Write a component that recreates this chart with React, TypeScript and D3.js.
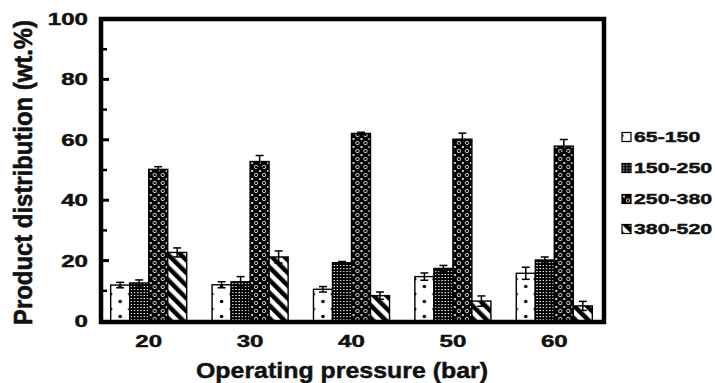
import React from "react";
import * as d3 from "d3";

// Operating pressure groups (bar) and product cuts
const pressures = ["20", "30", "40", "50", "60"];
const fractions = ["65-150", "150-250", "250-380", "380-520"];

// Mean product distribution (wt.%) and error per cut
const cut65_150 = [11.9, 12.0, 10.5, 14.7, 15.8];
const err65_150 = [0.9, 1.0, 0.9, 1.2, 2.0];
const cut150_250 = [12.6, 13.0, 19.3, 17.4, 20.2];
const err150_250 = [1.0, 1.7, 0.4, 1.0, 1.0];
const cut250_380 = [50.2, 52.8, 62.1, 60.2, 57.9];
const err250_380 = [0.9, 2.0, 0.4, 2.0, 2.2];
const cut380_520 = [22.7, 21.2, 8.4, 6.6, 5.0];
const err380_520 = [1.5, 2.0, 1.2, 1.7, 1.5];

const yTickValues = [0, 20, 40, 60, 80, 100];
const yMinorValues = [10, 30, 50, 70, 90];

const seriesValues = [cut65_150, cut150_250, cut250_380, cut380_520];
const seriesErrors = [err65_150, err150_250, err250_380, err380_520];
const patternIds = ["pDots", "pGrid", "pCircles", "pStripes"];

const W = 715;
const H = 383;
const FONT = "'Liberation Sans', Arial, Helvetica, sans-serif";
const INK = "#111";

export default function App() {
  const frame = { left: 101, right: 604, top: 19, bottom: 322 };
  const y = d3.scaleLinear().domain([0, 100]).range([321, 19]);
  const x0 = d3
    .scaleBand<string>()
    .domain(pressures)
    .range([98, 605])
    .paddingInner(0.25)
    .paddingOuter(0.125);
  const x1 = d3
    .scaleBand<string>()
    .domain(fractions)
    .range([0, x0.bandwidth()]);
  const bw = x1.bandwidth();

  const bars: React.ReactNode[] = [];
  const errs: React.ReactNode[] = [];
  pressures.forEach((p, gi) => {
    fractions.forEach((f, si) => {
      const v = seriesValues[si][gi];
      const e = seriesErrors[si][gi];
      const bx = (x0(p) ?? 0) + (x1(f) ?? 0);
      const h = y(0) - y(v);
      bars.push(
        <g key={`b-${p}-${f}`} transform={`translate(${bx},${y(0)})`}>
          <rect
            x={0}
            y={-h}
            width={bw}
            height={h}
            fill={`url(#${patternIds[si]})`}
            stroke="#000"
            strokeWidth={1.4}
          />
        </g>
      );
      const cx = bx + bw / 2;
      const cap = 4;
      errs.push(
        <g key={`e-${p}-${f}`} stroke="#000" strokeWidth={1.5}>
          <line x1={cx} x2={cx} y1={y(v + e)} y2={y(v - e)} />
          <line x1={cx - cap} x2={cx + cap} y1={y(v + e)} y2={y(v + e)} />
          <line x1={cx - cap} x2={cx + cap} y1={y(v - e)} y2={y(v - e)} />
        </g>
      );
    });
  });

  const legendRows = [137, 168, 199, 229];
  const textProps = {
    fontFamily: FONT,
    fontWeight: "bold" as const,
    fill: INK,
    stroke: INK,
    strokeWidth: 0.45,
  };

  return (
    <svg
      width={W}
      height={H}
      viewBox={`0 0 ${W} ${H}`}
      style={{ position: "absolute", left: 0, top: 0, background: "#fff" }}
    >
      <defs>
        {/* sparse dots on white */}
        <pattern id="pDots" patternUnits="userSpaceOnUse" x={0} y={0} width={19} height={15}>
          <rect width={19} height={15} fill="#fff" />
          <circle cx={9.5} cy={10.5} r={1.8} fill="#000" />
          <circle cx={0} cy={3} r={1.6} fill="#000" />
          <circle cx={19} cy={3} r={1.6} fill="#000" />
        </pattern>
        {/* dense dark grid */}
        <pattern id="pGrid" patternUnits="userSpaceOnUse" x={0} y={0} width={3.2} height={3}>
          <rect width={3.2} height={3} fill="#000" />
          <rect x={1.1} y={1} width={1.3} height={1.1} fill="#fff" />
        </pattern>
        {/* white circles on black */}
        <pattern id="pCircles" patternUnits="userSpaceOnUse" x={0} y={0} width={8} height={8}>
          <rect width={8} height={8} fill="#000" />
          <circle cx={2} cy={2} r={1.1} fill="#fff" />
          <circle cx={6} cy={6} r={1.7} fill="none" stroke="#fff" strokeWidth={0.8} />
        </pattern>
        {/* diagonal stripes */}
        <pattern
          id="pStripes"
          patternUnits="userSpaceOnUse"
          x={0}
          y={0}
          width={9}
          height={9}
          patternTransform="rotate(-45)"
        >
          <rect width={9} height={9} fill="#fff" />
          <rect x={0} y={0} width={4.5} height={9} fill="#000" />
        </pattern>
      </defs>

      {bars}
      {errs}

      {/* plot frame */}
      <rect
        x={frame.left}
        y={frame.top}
        width={frame.right - frame.left}
        height={frame.bottom - frame.top}
        fill="none"
        stroke="#000"
        strokeWidth={4.5}
      />

      {/* inward y ticks */}
      {yTickValues
        .filter((t) => t > 0 && t < 100)
        .map((t) => (
          <line
            key={`mj-${t}`}
            x1={frame.left}
            x2={frame.left + 8}
            y1={y(t)}
            y2={y(t)}
            stroke="#000"
            strokeWidth={3}
          />
        ))}
      {yMinorValues.map((t) => (
        <line
          key={`mn-${t}`}
          x1={frame.left}
          x2={frame.left + 6}
          y1={y(t)}
          y2={y(t)}
          stroke="#000"
          strokeWidth={2.5}
        />
      ))}

      {/* y tick labels */}
      {yTickValues.map((t) => (
        <text
          key={`yl-${t}`}
          transform={`translate(88,${y(t) + 6}) scale(1.46,1)`}
          textAnchor="end"
          fontSize={16.5}
          {...textProps}
        >
          {t}
        </text>
      ))}

      {/* x tick labels */}
      {pressures.map((p) => (
        <text
          key={`xl-${p}`}
          transform={`translate(${(x0(p) ?? 0) + x0.bandwidth() / 2},347) scale(1.46,1)`}
          textAnchor="middle"
          fontSize={16.5}
          {...textProps}
        >
          {p}
        </text>
      ))}

      {/* axis titles */}
      <text
        x={342}
        y={378}
        textAnchor="middle"
        fontSize={22}
        textLength={292}
        lengthAdjust="spacingAndGlyphs"
        {...textProps}
      >
        Operating pressure (bar)
      </text>
      <text
        transform="translate(32,172.5) rotate(-90) scale(1,1.3)"
        textAnchor="middle"
        fontSize={20}
        textLength={305}
        lengthAdjust="spacingAndGlyphs"
        {...textProps}
      >
        Product distribution (wt.%)
      </text>

      {/* legend */}
      {fractions.map((f, i) => (
        <g key={`lg-${f}`}>
          <g transform={`translate(622,${legendRows[i] - 4.5})`}>
            <rect
              x={0}
              y={0}
              width={9}
              height={9}
              fill={`url(#${patternIds[i]})`}
              stroke="#000"
              strokeWidth={1.2}
            />
          </g>
          <text
            transform={`translate(634,${legendRows[i] + 5.4}) scale(1.42,1)`}
            fontSize={15}
            {...textProps}
          >
            {f}
          </text>
        </g>
      ))}
    </svg>
  );
}
